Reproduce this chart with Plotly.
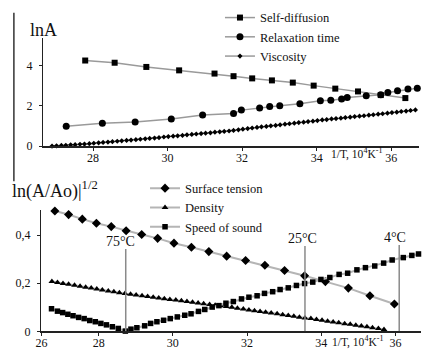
import plotly.graph_objects as go

# ---------------- Top panel data ----------------
sd_x = [27.79, 28.58, 29.43, 30.31, 31.26, 31.77, 32.27, 32.80, 33.36, 33.92, 34.50, 35.11, 35.72, 36.38]
sd_y = [4.26, 4.15, 3.94, 3.77, 3.61, 3.48, 3.37, 3.27, 3.16, 3.01, 2.86, 2.72, 2.54, 2.39]

rt_x = [27.28, 28.25, 29.13, 30.10, 30.94, 31.77, 31.98, 32.47, 32.74, 33.01, 33.55, 34.10, 34.38,
        34.67, 34.82, 35.33, 35.72, 35.91, 36.17, 36.45, 36.70]
rt_y = [0.99, 1.14, 1.20, 1.35, 1.55, 1.62, 1.79, 1.90, 1.97, 2.01, 2.11, 2.26, 2.28,
        2.34, 2.42, 2.50, 2.55, 2.67, 2.75, 2.84, 2.88]

vi_x = [26.90, 27.02, 27.15, 27.27, 27.40, 27.52, 27.65, 27.77,
        27.90, 28.02, 28.15, 28.27, 28.40, 28.52, 28.65, 28.77,
        28.90, 29.02, 29.15, 29.27, 29.40, 29.52, 29.65, 29.77,
        29.90, 30.02, 30.15, 30.27, 30.40, 30.52, 30.65, 30.77,
        30.90, 31.02, 31.15, 31.27, 31.40, 31.52, 31.65, 31.77,
        31.90, 32.02, 32.15, 32.27, 32.40, 32.52, 32.65, 32.77,
        32.90, 33.02, 33.15, 33.27, 33.40, 33.52, 33.65, 33.77,
        33.90, 34.02, 34.15, 34.27, 34.40, 34.52, 34.65, 34.77,
        34.90, 35.02, 35.15, 35.27, 35.40, 35.52, 35.65, 35.77,
        35.90, 36.02, 36.15, 36.27, 36.40, 36.52, 36.65]
vi_y = [0.00, 0.01, 0.03, 0.04, 0.06, 0.07, 0.09, 0.10,
        0.12, 0.14, 0.16, 0.18, 0.20, 0.22, 0.24, 0.26,
        0.28, 0.30, 0.32, 0.34, 0.36, 0.38, 0.40, 0.42,
        0.45, 0.47, 0.49, 0.51, 0.53, 0.56, 0.58, 0.60,
        0.62, 0.64, 0.66, 0.69, 0.71, 0.73, 0.75, 0.78,
        0.81, 0.84, 0.87, 0.90, 0.93, 0.96, 0.98, 1.01,
        1.03, 1.06, 1.09, 1.11, 1.14, 1.17, 1.19, 1.22,
        1.24, 1.27, 1.30, 1.32, 1.35, 1.37, 1.39, 1.42,
        1.44, 1.47, 1.49, 1.51, 1.54, 1.56, 1.59, 1.61,
        1.64, 1.67, 1.69, 1.72, 1.74, 1.77, 1.80]

# ---------------- Bottom panel data ----------------
st_x = [26.82, 27.19, 27.56, 27.94, 28.34, 28.74, 29.16, 29.59, 30.03, 30.50, 30.97,
        31.45, 31.96, 32.48, 33.01, 33.55, 34.11, 34.73, 35.31, 35.97]
st_y = [0.501, 0.486, 0.467, 0.450, 0.436, 0.419, 0.403, 0.387, 0.367, 0.350, 0.332,
        0.313, 0.295, 0.275, 0.253, 0.231, 0.207, 0.180, 0.148, 0.114]

de_x = [26.74, 26.89, 27.04, 27.19, 27.35, 27.50, 27.65, 27.80, 27.95, 28.10, 28.26, 28.41,
        28.56, 28.71, 28.86, 29.01, 29.17, 29.32, 29.47, 29.62, 29.77, 29.92, 30.08, 30.23,
        30.38, 30.53, 30.68, 30.83, 30.99, 31.14, 31.29, 31.44, 31.59, 31.74, 31.90, 32.05,
        32.20, 32.35, 32.50, 32.65, 32.81, 32.96, 33.11, 33.26, 33.41, 33.56, 33.72, 33.87,
        34.02, 34.17, 34.32, 34.47, 34.63, 34.78, 34.93, 35.08, 35.23, 35.38, 35.54, 35.69]
de_y = [0.207, 0.203, 0.199, 0.196, 0.192, 0.188, 0.184, 0.180, 0.176, 0.172, 0.168, 0.165,
        0.161, 0.157, 0.154, 0.151, 0.148, 0.145, 0.142, 0.139, 0.136, 0.133, 0.130, 0.127,
        0.124, 0.121, 0.118, 0.115, 0.112, 0.109, 0.106, 0.103, 0.100, 0.096, 0.093, 0.089,
        0.086, 0.083, 0.079, 0.076, 0.073, 0.069, 0.066, 0.063, 0.059, 0.056, 0.053, 0.049,
        0.046, 0.042, 0.039, 0.036, 0.032, 0.029, 0.025, 0.022, 0.019, 0.015, 0.012, 0.008]

ss_x = [26.73, 26.89, 27.03, 27.17, 27.31, 27.46, 27.61, 27.76, 27.91, 28.06, 28.21, 28.37,
        28.53, 28.72, 28.87, 29.03, 29.24, 29.40, 29.57, 29.75, 29.93, 30.12, 30.32, 30.49,
        30.69, 30.86, 31.06, 31.24, 31.43, 31.63, 31.85, 32.05, 32.27, 32.47, 32.69, 32.89,
        33.11, 33.33, 33.55, 33.77, 33.99, 34.23, 34.48, 34.71, 34.96, 35.19, 35.44, 35.68,
        35.91, 36.21, 36.44, 36.62]
ss_y = [0.094, 0.084, 0.078, 0.071, 0.065, 0.058, 0.053, 0.045, 0.040, 0.033, 0.027, 0.019,
        0.012, 0.001, 0.009, 0.015, 0.023, 0.033, 0.040, 0.046, 0.053, 0.060, 0.067, 0.073,
        0.083, 0.091, 0.101, 0.107, 0.117, 0.124, 0.135, 0.142, 0.148, 0.158, 0.165, 0.174,
        0.181, 0.191, 0.199, 0.205, 0.216, 0.224, 0.237, 0.242, 0.256, 0.265, 0.272, 0.284,
        0.297, 0.307, 0.316, 0.322]

temp_labels = ["75°C", "25°C", "4°C"]
temp_x = [28.73, 33.56, 36.10]

top_xticks = [28, 30, 32, 34, 36]
top_yticks = [0, 2, 4]
bot_xticks = [26.46, 28, 30, 32, 34, 36]
bot_xtext = ["26", "28", "30", "32", "34", "36"]
bot_yticks = [0, 0.2, 0.4]
bot_ytext = ["0", "0,2", "0,4"]

FONT = "Liberation Serif"
W, H = 429, 355
LINE_TOP = "#9a9a9a"
LINE_BOT = "#b5b5b5"

fig = go.Figure()

def add(x, y, name, symbol, size, color_line, lw, xa, ya, legend):
    fig.add_trace(go.Scatter(
        x=x, y=y, name=name, mode="lines+markers",
        line=dict(color=color_line, width=lw),
        marker=dict(symbol=symbol, size=size, color="black"),
        xaxis=xa, yaxis=ya, legend=legend, cliponaxis=False))

add(sd_x, sd_y, "Self-diffusion", "square", 6, LINE_TOP, 1.5, "x", "y", "legend")
add(rt_x, rt_y, "Relaxation time", "circle", 7, LINE_TOP, 1.5, "x", "y", "legend")
add(vi_x, vi_y, "Viscosity", "diamond", 4, LINE_TOP, 1.5, "x", "y", "legend")

add(st_x, st_y, "Surface tension", "diamond", 7, LINE_BOT, 2, "x2", "y2", "legend2")
add(de_x, de_y, "Density", "triangle-up", 6, LINE_BOT, 2, "x2", "y2", "legend2")
add(ss_x, ss_y, "Speed of sound", "square", 5.5, LINE_BOT, 2, "x2", "y2", "legend2")

axis_common = dict(showline=True, linecolor="#222", linewidth=1.5, ticks="outside",
                   ticklen=3, tickcolor="#222", showgrid=False, zeroline=False,
                   tickfont=dict(family=FONT, size=12, color="#111"), fixedrange=True)

fig.update_layout(
    width=W, height=H, margin=dict(l=0, r=0, t=0, b=0), autosize=False,
    paper_bgcolor="white", plot_bgcolor="white",
    font=dict(family=FONT, color="#111"),
    xaxis=dict(domain=[38 / W, 419 / W], range=[26.67, 36.75], anchor="y",
               tickvals=top_xticks, ticklabelstandoff=-3, **axis_common),
    yaxis=dict(domain=[(H - 149) / H, (H - 39) / H], range=[0, 5.37], anchor="x",
               tickvals=top_yticks, ticklabelstandoff=4, **axis_common),
    xaxis2=dict(domain=[36 / W, 421 / W], range=[26.46, 36.69], anchor="y2",
                tickvals=bot_xticks, ticktext=bot_xtext, ticklabelstandoff=-3, **axis_common),
    yaxis2=dict(domain=[17 / H, 141 / H], range=[0, 0.506], anchor="x2",
                tickvals=bot_yticks, ticktext=bot_ytext, ticklabelstandoff=4, **axis_common),
    legend=dict(x=217 / W, y=1 - 3 / H, xanchor="left", yanchor="top",
                bgcolor="rgba(0,0,0,0)", font=dict(family=FONT, size=12.5, color="#111"),
                itemwidth=30, tracegroupgap=0),
    legend2=dict(x=141 / W, y=1 - 177 / H, xanchor="left", yanchor="top",
                 bgcolor="rgba(0,0,0,0)", font=dict(family=FONT, size=12.5, color="#111"),
                 itemwidth=30, tracegroupgap=0),
    showlegend=True,
)

shapes = []
annotations = []
line_tops = [0.343, 0.355, 0.359]
label_dx = [-5, -2, -4]
for lab, xv, yt, dx in zip(temp_labels, temp_x, line_tops, label_dx):
    shapes.append(dict(type="line", xref="x2", yref="y2", x0=xv, x1=xv, y0=0, y1=yt,
                       line=dict(color="#8a8a8a", width=1.5)))
    annotations.append(dict(xref="x2", yref="y2", x=xv, y=yt, text=lab, showarrow=False,
                            yanchor="bottom", xshift=dx, yshift=-2,
                            font=dict(family=FONT, size=14, color="#111")))

# left border line of the original figure
shapes.append(dict(type="line", xref="paper", yref="paper", x0=8 / W, x1=8 / W,
                   y0=1 - 185 / H, y1=1 - 13 / H, line=dict(color="#333", width=1.5)))

annotations += [
    dict(xref="paper", yref="paper", x=22 / W, y=1 - 31 / H, text="lnA", showarrow=False,
         xanchor="left", yanchor="middle", font=dict(family=FONT, size=18, color="#111")),
    dict(xref="paper", yref="paper", x=4 / W, y=1 - 194 / H,
         text="ln(A/Ao)|<sup>1/2</sup>", showarrow=False,
         xanchor="left", yanchor="middle", font=dict(family=FONT, size=18, color="#111")),
    dict(xref="paper", yref="paper", x=328 / W, y=1 - 157 / H,
         text="1/T, 10<sup>4</sup>K<sup>-1</sup>", showarrow=False,
         xanchor="left", yanchor="middle", font=dict(family=FONT, size=11.5, color="#111")),
    dict(xref="paper", yref="paper", x=329 / W, y=1 - 348 / H,
         text="1/T, 10<sup>4</sup>K<sup>-1</sup>", showarrow=False,
         xanchor="left", yanchor="middle", font=dict(family=FONT, size=11.5, color="#111")),
]
fig.update_layout(shapes=shapes, annotations=annotations)

fig.write_html(
    "out.html",
    config={"displayModeBar": False, "staticPlot": True},
    post_script="document.documentElement.style.margin='0';"
                "document.body.style.margin='0';"
                "document.body.style.overflow='hidden';",
)
